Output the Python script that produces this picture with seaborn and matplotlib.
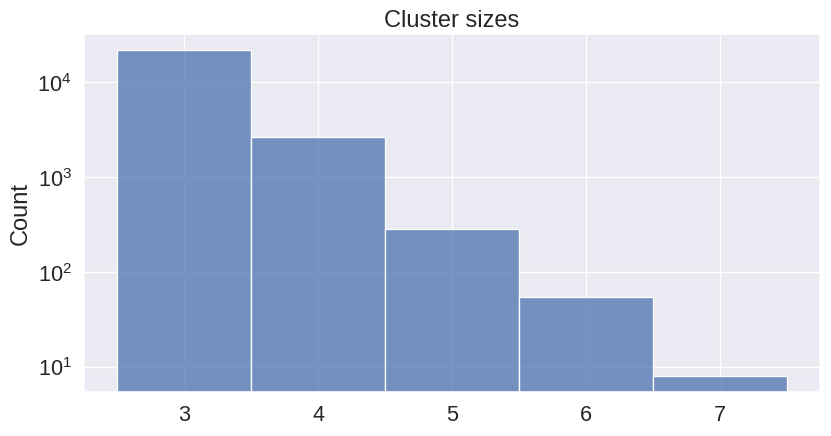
import numpy as np
import pandas as pd
import matplotlib
matplotlib.use("Agg")
import matplotlib.pyplot as plt
import seaborn as sns

sizes = [3, 4, 5, 6, 7]
counts = [21600, 2660, 285, 54, 8]

sns.set_theme(style="darkgrid", font_scale=1.5)
plt.rcParams['font.family'] = ['Liberation Sans', 'DejaVu Sans']
plt.rcParams['mathtext.fontset'] = 'custom'
plt.rcParams['mathtext.rm'] = 'Liberation Sans'
plt.rcParams['mathtext.it'] = 'Liberation Sans:italic'
plt.rcParams['mathtext.bf'] = 'Liberation Sans:bold'
plt.rcParams['mathtext.default'] = 'regular'

dpi = 94.4
fig = plt.figure(figsize=(831 / dpi, 437 / dpi), dpi=dpi)
ax = fig.add_axes([84 / 831, 1 - 393 / 437, (820 - 84) / 831, (393 - 35) / 437])

df = pd.DataFrame({"size": sizes, "count": counts})
sns.histplot(data=df, x="size", weights="count", discrete=True, ax=ax)
ax.set_yscale("log")
ax.set_xlabel("")
ax.set_ylabel("Count")
ax.set_title("Cluster sizes")

fig.savefig("out.png", dpi=dpi)
